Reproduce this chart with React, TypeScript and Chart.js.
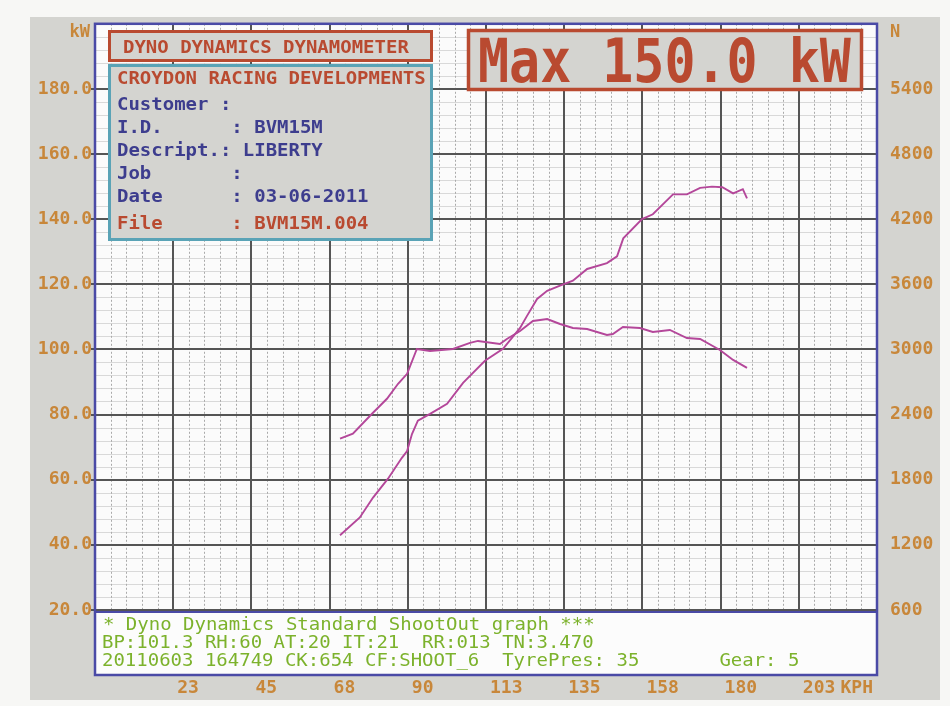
import React, { useEffect, useRef } from 'react';
import { Chart, registerables } from 'chart.js';

Chart.register(...registerables);

// ---- data ----
const powerSpeedKph = [70.5, 76.2, 80.0, 84.3, 88.3, 89.8, 91.2, 92.9, 96.4, 101.3, 105.9, 112.2, 117.4, 122.3, 124.3, 127.2, 130.1, 133.8, 137.5, 141.6, 147.3, 150.2, 152.0, 157.4, 160.5, 166.3, 170.3, 174.1, 177.5, 180.5, 183.6, 186.4, 187.6];
const powerKW = [42.9, 48.4, 54.5, 60.3, 66.7, 68.8, 74.0, 78.1, 80.2, 83.3, 89.7, 96.5, 100.2, 106.6, 110.3, 115.5, 118.0, 119.6, 121.1, 124.7, 126.5, 128.6, 134.1, 140.0, 141.5, 147.6, 147.6, 149.6, 150.0, 149.8, 147.9, 149.2, 146.4];

const forceSpeedKph = [70.5, 74.2, 79.7, 84.0, 87.2, 89.8, 92.6, 96.4, 103.0, 107.9, 110.2, 116.5, 118.5, 122.3, 126.0, 130.1, 133.8, 137.5, 141.6, 147.3, 149.0, 151.9, 156.8, 160.5, 165.4, 170.3, 174.1, 179.8, 183.6, 187.6];
const forceN = [2178, 2223, 2407, 2545, 2683, 2775, 3004, 2986, 3004, 3060, 3078, 3050, 3096, 3170, 3262, 3280, 3234, 3197, 3188, 3133, 3142, 3207, 3197, 3161, 3179, 3105, 3096, 2995, 2903, 2830];

const speedMax = 225;
const speedStep = 22.5;
const kwMax = 200;
const kwStep = 20;
const forceMax = 6000;
const forceStep = 600;

const headerTitle = 'DYNO DYNAMICS DYNAMOMETER';
const companyName = 'CROYDON RACING DEVELOPMENTS';
const infoLines = [
  'Customer :',
  'I.D.      : BVM15M',
  'Descript.: LIBERTY',
  'Job       :',
  'Date      : 03-06-2011',
];
const fileLine = 'File      : BVM15M.004';
const maxText = 'Max 150.0 kW';
const footerLines = [
  '* Dyno Dynamics Standard ShootOut graph ***',
  'BP:101.3 RH:60 AT:20 IT:21  RR:013 TN:3.470',
  '20110603 164749 CK:654 CF:SHOOT_6  TyrePres: 35       Gear: 5',
];

// ---- styles ----
const W = 950;
const H = 706;
const FONT = '"DejaVu Sans Mono", "Liberation Mono", monospace';
const AXIS_COLOR = '#c8873a';
const CURVE = '#b4479a';
const RED = '#b94a30';
const TEAL = '#5aa3b6';
const BLUE_TXT = '#3d3d8e';
const GREEN = '#7cb22c';
const BORDER_BLUE = '#4a4aa6';
const FRAME_GRAY = '#d4d4d0';

function txt(ctx: CanvasRenderingContext2D, s: string, x: number, y: number, size: number, color: string, bold: boolean, sx = 1, align: CanvasTextAlign = 'left') {
  ctx.save();
  ctx.translate(x, y);
  ctx.scale(sx, 1);
  ctx.font = `${bold ? 'bold ' : ''}${size}px ${FONT}`;
  ctx.fillStyle = color;
  ctx.textBaseline = 'alphabetic';
  ctx.textAlign = align;
  ctx.fillText(s, 0, 0);
  ctx.restore();
}

const dynoPlugin = {
  id: 'dyno',
  beforeDraw(chart: any) {
    const ctx: CanvasRenderingContext2D = chart.ctx;
    const ca = chart.chartArea;
    ctx.save();
    ctx.fillStyle = '#f7f7f5';
    ctx.fillRect(0, 0, W, H);
    ctx.fillStyle = FRAME_GRAY;
    ctx.fillRect(30, 17, 910, 683);
    ctx.fillStyle = '#fbfbfb';
    ctx.fillRect(ca.left, ca.top, ca.right - ca.left, ca.bottom - ca.top);
    ctx.restore();
  },
  beforeDatasetsDraw(chart: any) {
    const ctx: CanvasRenderingContext2D = chart.ctx;
    const ca = chart.chartArea;
    const xs = chart.scales.x;
    const ys = chart.scales.y;
    ctx.save();
    // minor horizontal
    ctx.strokeStyle = '#d9d9d9';
    ctx.lineWidth = 1;
    for (let v = 4; v < kwMax; v += 4) {
      if (v % kwStep === 0) continue;
      const y = Math.round(ys.getPixelForValue(v)) + 0.5;
      ctx.beginPath(); ctx.moveTo(ca.left, y); ctx.lineTo(ca.right, y); ctx.stroke();
    }
    // minor vertical dashed
    ctx.strokeStyle = '#aaaaaa';
    ctx.setLineDash([2, 2]);
    for (let i = 1; i < 50; i++) {
      if (i % 5 === 0) continue;
      const x = Math.round(xs.getPixelForValue(i * speedStep / 5)) + 0.5;
      ctx.beginPath(); ctx.moveTo(x, ca.top); ctx.lineTo(x, ca.bottom); ctx.stroke();
    }
    ctx.setLineDash([]);
    // major
    ctx.strokeStyle = '#555555';
    ctx.lineWidth = 2;
    for (let v = kwStep; v < kwMax; v += kwStep) {
      const y = Math.round(ys.getPixelForValue(v));
      ctx.beginPath(); ctx.moveTo(ca.left - 4, y); ctx.lineTo(ca.right, y); ctx.stroke();
    }
    for (let i = 1; i < 10; i++) {
      const x = Math.round(xs.getPixelForValue(i * speedStep));
      ctx.beginPath(); ctx.moveTo(x, ca.top); ctx.lineTo(x, ca.bottom); ctx.stroke();
    }
    ctx.restore();
  },
  afterDatasetsDraw(chart: any) {
    const ctx: CanvasRenderingContext2D = chart.ctx;
    const ca = chart.chartArea;
    const ys = chart.scales.y;
    ctx.save();
    // footer box
    const fTop = Math.round(ys.getPixelForValue(kwStep)) + 2;
    ctx.fillStyle = '#fcfcfc';
    ctx.fillRect(ca.left, fTop, ca.right - ca.left, ca.bottom - fTop);
    ctx.strokeStyle = BORDER_BLUE;
    ctx.lineWidth = 2;
    ctx.beginPath(); ctx.moveTo(ca.left, fTop); ctx.lineTo(ca.right, fTop); ctx.stroke();
    // plot border
    ctx.lineWidth = 2.5;
    ctx.strokeRect(ca.left, ca.top, ca.right - ca.left, ca.bottom - ca.top);
    txt(ctx, footerLines[0], 103, fTop + 18, 18, GREEN, false, 1.055);
    txt(ctx, footerLines[1], 102, fTop + 36, 18, GREEN, false, 1.055);
    txt(ctx, footerLines[2], 102, fTop + 54, 18, GREEN, false, 1.055);

    // header box
    ctx.fillStyle = FRAME_GRAY;
    ctx.fillRect(108, 31, 324, 30);
    ctx.strokeStyle = RED;
    ctx.lineWidth = 3;
    ctx.strokeRect(109.5, 31.5, 322, 29);
    txt(ctx, headerTitle, 123, 53, 18, RED, true, 1.055);

    // info box
    ctx.fillStyle = FRAME_GRAY;
    ctx.fillRect(108, 64, 324, 176);
    ctx.strokeStyle = TEAL;
    ctx.lineWidth = 3;
    ctx.strokeRect(109.5, 65.5, 322, 174);
    txt(ctx, companyName, 117, 84, 18, RED, true, 1.055);
    const bases = [110, 133, 156, 179, 202];
    infoLines.forEach((s, i) => txt(ctx, s, 117, bases[i], 18, BLUE_TXT, true, 1.055));
    txt(ctx, fileLine, 117, 229, 18, RED, true, 1.055);

    // max box
    ctx.fillStyle = FRAME_GRAY;
    ctx.fillRect(467, 29, 396, 62);
    ctx.strokeStyle = RED;
    ctx.lineWidth = 3.5;
    ctx.strokeRect(468.5, 30.5, 393, 59);
    txt(ctx, maxText, 478, 82, 60, RED, true, 0.86);

    // axis captions
    txt(ctx, 'kW', 90, 37, 17, AXIS_COLOR, true, 1, 'right');
    txt(ctx, 'N', 890, 37, 17, AXIS_COLOR, true, 1, 'left');
    txt(ctx, 'KPH', 873, 693, 18, AXIS_COLOR, true, 1, 'right');
    ctx.restore();
  },
};

export default function App() {
  const ref = useRef<HTMLCanvasElement | null>(null);
  useEffect(() => {
    if (!ref.current) return;
    const tickFont = { family: FONT, size: 18, weight: 'bold' as const };
    const chart = new Chart(ref.current, {
      type: 'line',
      data: {
        datasets: [
          {
            label: 'Power (kW)',
            data: powerSpeedKph.map((x, i) => ({ x, y: powerKW[i] })),
            yAxisID: 'y',
            borderColor: CURVE,
            borderWidth: 1.9,
            pointRadius: 0,
            tension: 0,
            fill: false,
          },
          {
            label: 'Tractive effort (N)',
            data: forceSpeedKph.map((x, i) => ({ x, y: forceN[i] })),
            yAxisID: 'y2',
            borderColor: CURVE,
            borderWidth: 1.9,
            pointRadius: 0,
            tension: 0,
            fill: false,
          },
        ],
      },
      options: {
        responsive: false,
        animation: false,
        devicePixelRatio: 1,
        layout: { padding: { top: 22, left: 0, right: 0, bottom: 0 } },
        plugins: { legend: { display: false }, tooltip: { enabled: false } },
        scales: {
          x: {
            type: 'linear',
            min: 0,
            max: speedMax,
            grid: { display: false, drawTicks: false },
            border: { display: false },
            afterFit: (s: any) => { s.height = 31; },
            ticks: {
              stepSize: speedStep,
              autoSkip: false,
              maxRotation: 0,
              align: 'start',
              labelOffset: 4,
              padding: 3,
              color: AXIS_COLOR,
              font: tickFont,
              callback: (v: any) => (Number(v) <= 0 || Number(v) >= speedMax ? '' : String(Math.round(Number(v)))),
            },
          },
          y: {
            type: 'linear',
            position: 'left',
            min: 0,
            max: kwMax,
            grid: { display: false, drawTicks: false },
            border: { display: false },
            afterFit: (s: any) => { s.width = 95; },
            ticks: {
              stepSize: kwStep,
              autoSkip: false,
              padding: 3,
              color: AXIS_COLOR,
              font: tickFont,
              callback: (v: any) => (Number(v) <= 0 || Number(v) >= kwMax ? '' : Number(v).toFixed(1)),
            },
          },
          y2: {
            type: 'linear',
            position: 'right',
            min: 0,
            max: forceMax,
            grid: { display: false, drawTicks: false },
            border: { display: false },
            afterFit: (s: any) => { s.width = 73; },
            ticks: {
              stepSize: forceStep,
              autoSkip: false,
              padding: 13,
              color: AXIS_COLOR,
              font: tickFont,
              callback: (v: any) => (Number(v) <= 0 || Number(v) >= forceMax ? '' : String(v)),
            },
          },
        },
      },
      plugins: [dynoPlugin],
    });
    return () => chart.destroy();
  }, []);
  return (
    <div style={{ position: 'absolute', left: 0, top: 0, width: W, height: H }}>
      <canvas ref={ref} width={W} height={H} style={{ width: W, height: H, display: 'block' }} />
    </div>
  );
}
